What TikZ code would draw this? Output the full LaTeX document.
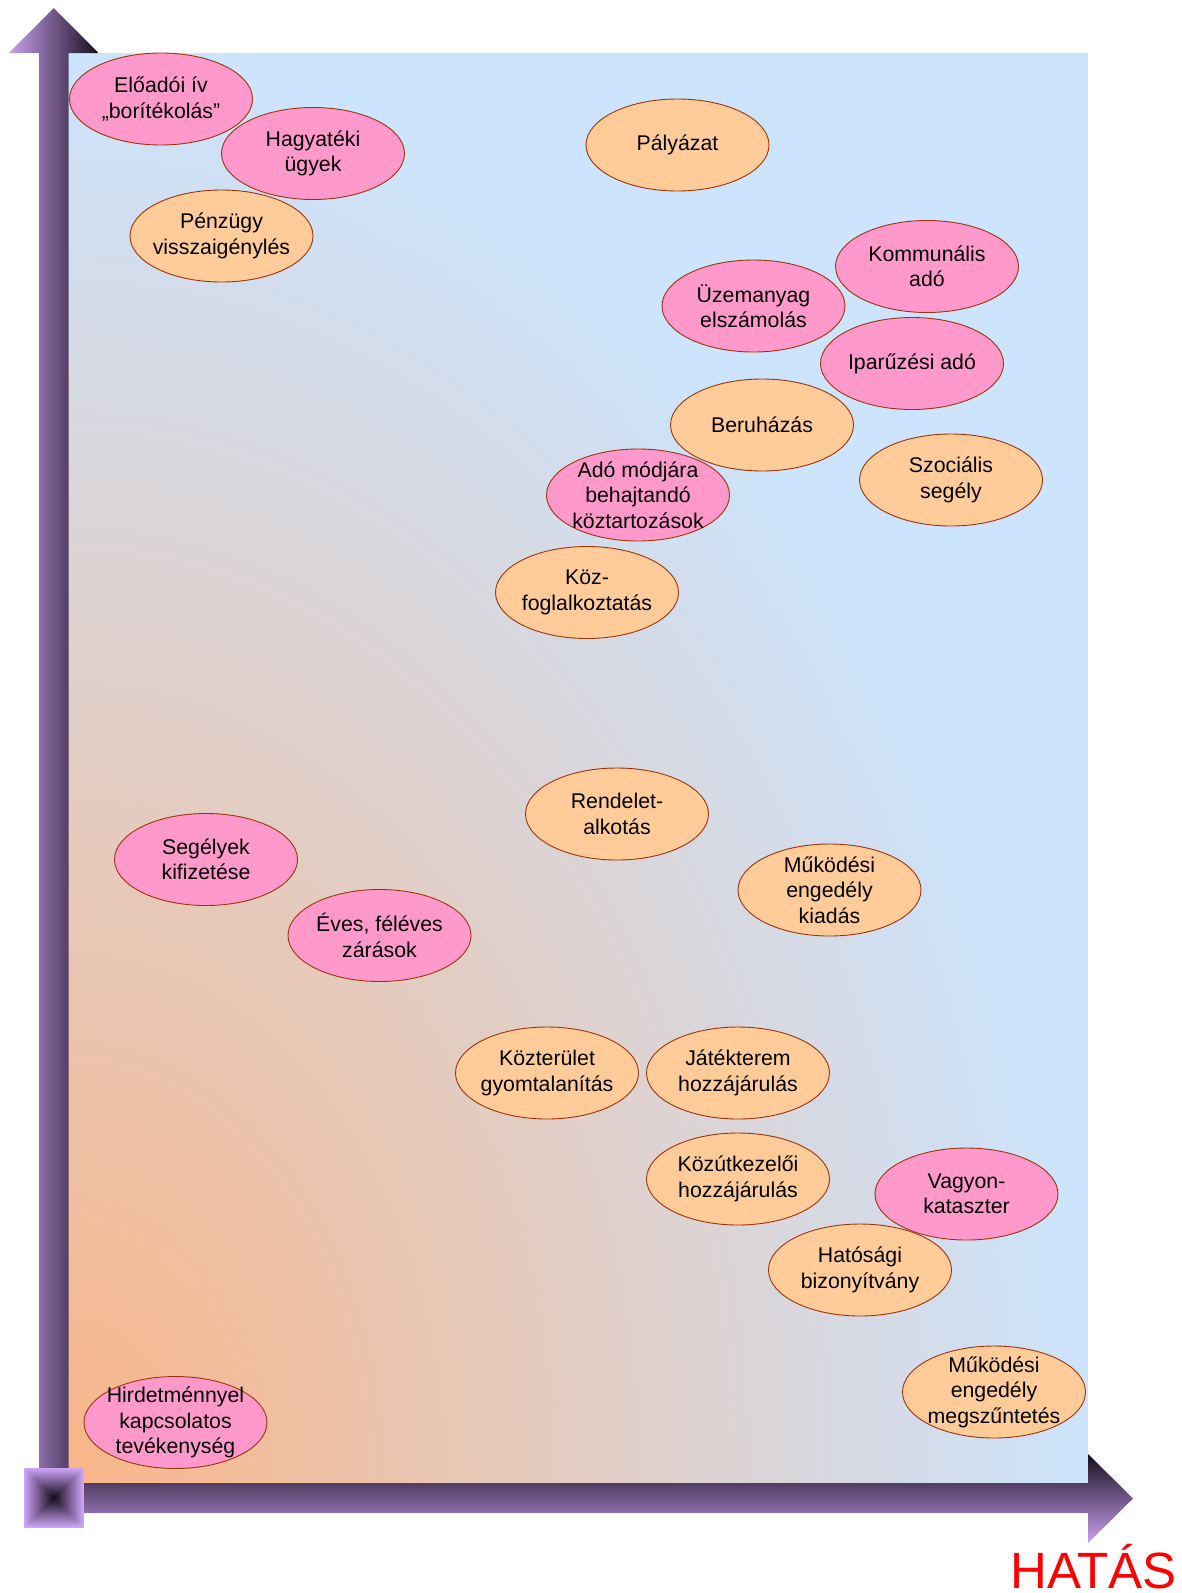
\documentclass[tikz,border=0pt]{standalone}
\usepackage{fontspec}
\setmainfont{Liberation Sans}
\usetikzlibrary{shapes.geometric}

% palette
\definecolor{bgorange}{RGB}{249,181,136}
\definecolor{bgblue}{RGB}{204,228,253}
\definecolor{arrowlight}{RGB}{200,160,240}
\definecolor{arrowdark}{RGB}{24,14,30}
\definecolor{cornerlight}{RGB}{206,166,248}
\definecolor{ovalpink}{RGB}{255,153,204}
\definecolor{ovalorange}{RGB}{255,204,153}
\definecolor{ovalline}{RGB}{160,50,10}

% panel shading: orange in the lower left corner fading to light blue
\pgfdeclareradialshading{cornerglow}{\pgfpoint{0bp}{0bp}}{color(0bp)=(bgorange); color(25bp)=(bgblue); color(50bp)=(bgblue)}

\tikzset{
  oval/.style={ellipse, draw=ovalline, line width=0.9pt, minimum width=183pt, minimum height=92pt, inner sep=0pt},
  pinkoval/.style={oval, fill=ovalpink},
  orangeoval/.style={oval, fill=ovalorange},
  ovaltext/.style={align=center, inner sep=0pt, font=\fontsize{21.3}{25.4}\selectfont, text=black},
  axislabel/.style={anchor=base west, inner sep=0pt, text depth=0pt, text=red, font=\fontsize{51}{56}\selectfont},
}

% one task: name, style, x, y, text
\newcommand\ovalitem[5]{%
  \node[#2] (#1) at (#3,#4) {};
  \node[ovaltext] (#1-text) at (#1.center) {#5};
}

\begin{document}
\begin{tikzpicture}[x=1pt,y=-1pt]
\useasboundingbox (0,0) rectangle (1182,1593);

% background panel
\begin{scope}
  \clip (68,53) rectangle (1088,1483);
  \fill[bgblue] (68,53) rectangle (1088,1483);
  \shade[shading=cornerglow] (68,1483) ellipse [x radius=1020, y radius=1430];
\end{scope}

% vertical axis arrow
\shade[left color=arrowlight, right color=arrowdark]
  (39,1468) -- (39,53) -- (9,53) -- (53.75,8) -- (98.5,53) -- (68.5,53) -- (68.5,1468) -- cycle;

% horizontal axis arrow
\shade[top color=arrowdark, bottom color=arrowlight]
  (84,1483) -- (1088,1483) -- (1088,1454) -- (1133,1498.5) -- (1088,1543) -- (1088,1513) -- (84,1513) -- cycle;

% corner block with a pyramid-like shading
\foreach \i in {0,...,29}{
  \pgfmathsetmacro\h{30-\i}
  \pgfmathtruncatemacro\p{100-\i*100/29}
  \fill[cornerlight!\p!arrowdark] ({54-\h},{1498-\h}) rectangle ({54+\h},{1498+\h});
}

% tasks
\ovalitem{elo}{pinkoval}{161}{99}{Előadói ív\\„borítékolás”}
\ovalitem{hagy}{pinkoval}{313}{153.5}{Hagyatéki\\ügyek}
\ovalitem{penz}{orangeoval}{221.5}{236}{Pénzügy\\visszaigénylés}
\ovalitem{paly}{orangeoval}{677.5}{145}{Pályázat}
\ovalitem{komm}{pinkoval}{927}{266.5}{Kommunális\\adó}
\ovalitem{uzem}{pinkoval}{753.5}{306}{Üzemanyag\\elszámolás}
\ovalitem{ipar}{pinkoval}{912}{363.5}{Iparűzési adó}
\ovalitem{beru}{orangeoval}{762}{425}{Beruházás}
\ovalitem{szoc}{orangeoval}{951}{480}{Szociális\\segély}
\ovalitem{ado}{pinkoval}{638}{495}{Adó módjára\\behajtandó\\köztartozások}
\ovalitem{kozf}{orangeoval}{587}{592.5}{Köz-\\foglalkoztatás}
\ovalitem{rend}{orangeoval}{617}{814}{Rendelet-\\alkotás}
\ovalitem{seg}{pinkoval}{206}{859.5}{Segélyek\\kifizetése}
\ovalitem{mukk}{orangeoval}{829.5}{890}{Működési\\engedély\\kiadás}
\ovalitem{eves}{pinkoval}{379.5}{935.5}{Éves, féléves\\zárások}
\ovalitem{kozt}{orangeoval}{547}{1073}{Közterület\\gyomtalanítás}
\ovalitem{jat}{orangeoval}{738}{1073}{Játékterem\\hozzájárulás}
\ovalitem{kozut}{orangeoval}{738}{1179}{Közútkezelői\\hozzájárulás}
\ovalitem{vagy}{pinkoval}{966.5}{1194}{Vagyon-\\kataszter}
\ovalitem{hat}{orangeoval}{860}{1270}{Hatósági\\bizonyítvány}
\ovalitem{mukm}{orangeoval}{994}{1392}{Működési\\engedély\\megszűntetés}
\ovalitem{hird}{pinkoval}{175.5}{1422.5}{Hirdetménnyel\\kapcsolatos\\tevékenység}

% axis caption
\node[axislabel] (hatas) at (1010,1588) {HATÁS};
\end{tikzpicture}
\end{document}
